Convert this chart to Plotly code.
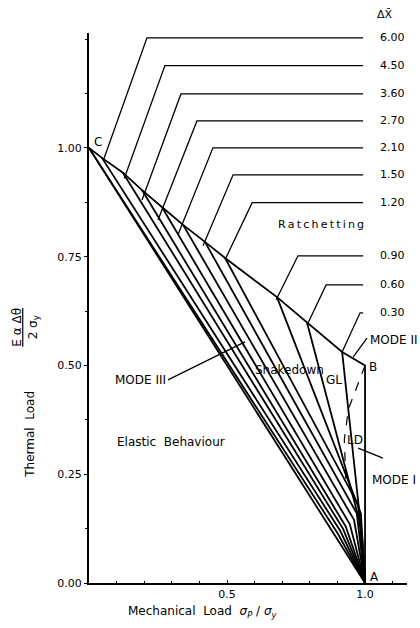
import plotly.graph_objects as go

# ---------------- data ----------------
dx_labels = ["6.00", "4.50", "3.60", "2.70", "2.10", "1.50", "1.20", "0.90", "0.60", "0.30"]

# upper shakedown envelope C -> ... -> B
env_x = [0.0, 0.047, 0.123, 0.192, 0.264, 0.341, 0.420, 0.493, 0.681, 0.790, 0.917, 1.0]
env_y = [1.0, 0.977, 0.943, 0.903, 0.864, 0.823, 0.784, 0.747, 0.657, 0.598, 0.531, 0.5]

# end points of the descending boundary of each ΔX curve (then to A)
end_x = [0.910, 0.920, 0.930, 0.945, 0.960, 0.970, 0.975, 0.985, 0.985, 0.990]
end_y = [0.120, 0.125, 0.130, 0.135, 0.145, 0.160, 0.180, 0.160, 0.130, 0.100]

# extra boundary line from C
extra_end_x = [0.900]
extra_end_y = [0.115]

# leader lines for ΔX labels: pointed end, kink, horizontal level
lead_end_x = [0.054, 0.128, 0.192, 0.250, 0.322, 0.413, 0.493, 0.678, 0.790, 0.917]
lead_end_y = [0.975, 0.930, 0.880, 0.834, 0.800, 0.775, 0.743, 0.651, 0.593, 0.531]
kink_x = [0.210, 0.275, 0.333, 0.391, 0.449, 0.522, 0.591, 0.757, 0.859, 0.982]
label_y = [1.253, 1.189, 1.124, 1.062, 1.000, 0.938, 0.874, 0.752, 0.685, 0.621]
lead_right_x = 0.993

# dashed LD curve
ld_x = [1.0, 0.940, 0.925, 0.930]
ld_y = [0.5, 0.400, 0.330, 0.240]

point_A = (1.0, 0.0)
point_C = (0.0, 1.0)

y_ticks = [0.0, 0.25, 0.5, 0.75, 1.0]
y_ticktext = ["0.00", "0.25", "0.50", "0.75", "1.00"]
x_ticks = [0.5, 1.0]
x_ticktext = ["0.5", "1.0"]

FONT = "DejaVu Sans"
LW = 1.8

fig = go.Figure()

def seg(xs, ys, width=LW, dash="solid"):
    fig.add_trace(go.Scatter(x=xs, y=ys, mode="lines",
                             line=dict(color="black", width=width, dash=dash),
                             hoverinfo="skip", showlegend=False))

# envelope + B->A
seg(env_x + [point_A[0]], env_y + [point_A[1]])
# C -> A elastic limit
seg([point_C[0], point_A[0]], [point_C[1], point_A[1]])
# extra line from C
for ex, ey in zip(extra_end_x, extra_end_y):
    seg([point_C[0], ex, point_A[0]], [point_C[1], ey, point_A[1]])
# ΔX curves: vertex -> end -> A
for i in range(len(dx_labels)):
    vx, vy = env_x[i + 1], env_y[i + 1]
    seg([vx, end_x[i], point_A[0]], [vy, end_y[i], point_A[1]])
# dashed LD
seg(ld_x, ld_y, width=1.2, dash="dash")

# leaders
for i in range(len(dx_labels)):
    seg([lead_end_x[i], kink_x[i], lead_right_x],
        [lead_end_y[i], label_y[i], label_y[i]], width=1.3)

# mode leaders
seg([0.286, 0.565], [0.467, 0.554], width=1.3)   # MODE III
seg([1.007, 0.957], [0.563, 0.519], width=1.3)   # MODE II
seg([1.065, 0.975], [0.287, 0.310], width=1.3)   # MODE I

ann = []
def txt(x, y, t, size=11, xanchor="center", angle=0, ref="data"):
    xr, yr = ("x", "y") if ref == "data" else ("paper", "paper")
    ann.append(dict(x=x, y=y, xref=xr, yref=yr, text=t, showarrow=False,
                    xanchor=xanchor, yanchor="middle", textangle=angle,
                    font=dict(family=FONT, size=size, color="black")))

for i, lab in enumerate(dx_labels):
    txt(1.047, label_y[i], lab, xanchor="left")
txt(0.931, 1.033, "ΔX̄", size=11, ref="paper")
txt(0.033, 1.014, "C", size=12)
txt(1.029, 0.497, "B", size=12)
txt(1.036, 0.013, "A", size=12)
txt(0.841, 0.823, "R\u2009a\u2009t\u2009c\u2009h\u2009e\u2009t\u2009t\u2009i\u2009n\u2009g", size=11)
txt(0.725, 0.490, "Shakedown", size=12)
txt(0.888, 0.467, "GL", size=12)
txt(0.962, 0.329, "LD", size=12)
txt(1.011, 0.559, "MODE II", size=12, xanchor="left")
txt(1.018, 0.237, "MODE I", size=12, xanchor="left")
txt(0.286, 0.467, "MODE III", size=12, xanchor="right")
txt(0.297, 0.324, "Elastic  Behaviour", size=12)
txt(-0.186, 0.271, "Thermal  Load", size=12, angle=-90, ref="paper")
txt(-0.200, 0.465, "<u>E α Δθ</u><br>2 σ<sub>y</sub>", size=12, angle=-90, ref="paper")
txt(0.358, -0.053, "Mechanical  Load  <i>σ<sub>P</sub></i> / <i>σ<sub>y</sub></i>", size=12, ref="paper")

fig.update_layout(
    width=420, height=628,
    margin=dict(l=89, r=13, t=33, b=45),
    paper_bgcolor="white", plot_bgcolor="white",
    annotations=ann,
    font=dict(family=FONT, size=11, color="black"),
    xaxis=dict(range=[0, 1.152], showgrid=False, zeroline=False,
               showline=True, linecolor="black", linewidth=2,
               tickmode="array", tickvals=x_ticks, ticktext=x_ticktext,
               ticks="inside", ticklen=3, tickcolor="black",
               minor=dict(tickmode="linear", tick0=0, dtick=0.1,
                          ticks="inside", ticklen=2, tickcolor="black"),
               tickfont=dict(family=FONT, size=11)),
    yaxis=dict(range=[0, 1.264], showgrid=False, zeroline=False,
               showline=True, linecolor="black", linewidth=2,
               tickmode="array", tickvals=y_ticks, ticktext=y_ticktext,
               ticks="outside", ticklen=3, tickcolor="black",
               minor=dict(tickmode="linear", tick0=0, dtick=0.125,
                          ticks="outside", ticklen=2, tickcolor="black"),
               tickfont=dict(family=FONT, size=11)),
)

fig.write_html("out.html")
